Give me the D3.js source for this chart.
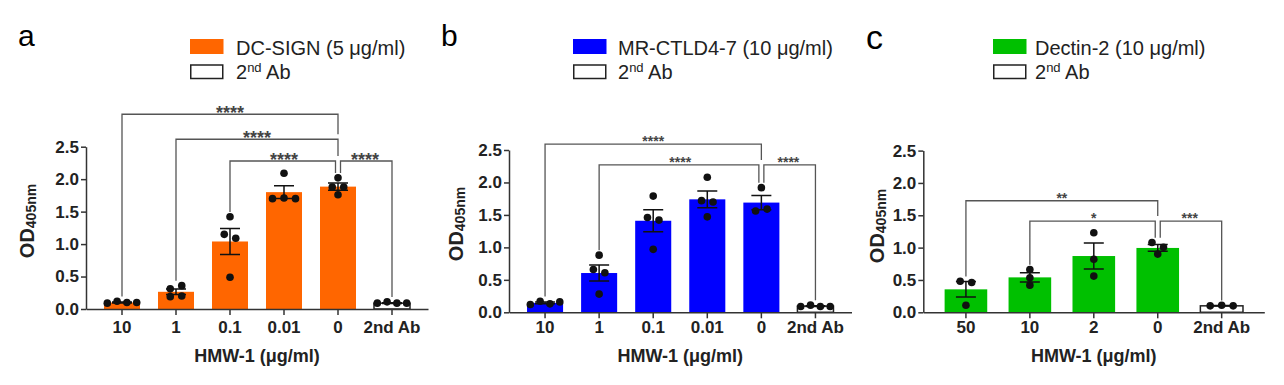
<!DOCTYPE html>
<html>
<head>
<meta charset="utf-8">
<script src="https://cdn.jsdelivr.net/npm/d3@7"></script>
<style>
  body { margin: 0; background: #fff; }
  text { font-family: "Liberation Sans", Arial, sans-serif; }
</style>
</head>
<body>
<div id="chart"></div>
<script>
// values
var panelLetters = ["a", "b", "c"];
var legendLabels = ["DC-SIGN (5 μg/ml)", "MR-CTLD4-7 (10 μg/ml)", "Dectin-2 (10 μg/ml)"];
var xTitle = "HMW-1 (μg/ml)";
var yTicks = [0, 0.5, 1.0, 1.5, 2.0, 2.5];

var categoriesAB = ["10", "1", "0.1", "0.01", "0", "2nd Ab"];
var categoriesC = ["50", "10", "2", "0", "2nd Ab"];

var meansA = [0.10, 0.265, 1.04, 1.80, 1.885, 0.09];
var semA = [0.007, 0.042, 0.20, 0.097, 0.055, 0.005];
var dotsA = [
    [0.09, 0.12, 0.10, 0.10],
    [0.31, 0.36, 0.19, 0.20],
    [1.42, 1.15, 1.09, 0.49],
    [2.09, 1.70, 1.71, 1.70],
    [2.02, 1.88, 1.88, 1.76],
    [0.09, 0.11, 0.09, 0.09]
];
var sigA = [
    {from: 0, to: 4, label: "****", level: 3.0},
    {from: 1, to: 4, label: "****", level: 2.615},
    {from: 2, to: 4, label: "****", level: 2.28},
    {from: 4, to: 5, label: "****", level: 2.28}
];

var meansB = [0.145, 0.605, 1.41, 1.74, 1.69, 0.095];
var semB = [0.012, 0.124, 0.17, 0.13, 0.11, 0.005];
var dotsB = [
    [0.12, 0.17, 0.13, 0.16],
    [0.88, 0.66, 0.61, 0.28],
    [1.79, 1.46, 1.42, 0.97],
    [2.08, 1.72, 1.70, 1.47],
    [1.92, 1.56, 1.59],
    [0.09, 0.11, 0.09, 0.09]
];
var sigB = [
    {from: 0, to: 4, label: "****", level: 2.59},
    {from: 1, to: 4, label: "****", level: 2.27},
    {from: 4, to: 5, label: "****", level: 2.27}
];

var meansC = [0.355, 0.54, 0.87, 0.995, 0.10];
var semC = [0.12, 0.07, 0.20, 0.053, 0.004];
var dotsC = [
    [0.48, 0.46, 0.11],
    [0.66, 0.535, 0.42],
    [1.23, 0.82, 0.56],
    [1.08, 1.005, 0.90],
    [0.10, 0.11, 0.10]
];
var sigC = [
    {from: 0, to: 3, label: "**", level: 1.725},
    {from: 1, to: 3, label: "*", level: 1.41},
    {from: 3, to: 4, label: "***", level: 1.41}
];

var svgWidth = 1284;
var svgHeight = 385;
var dotR = 3.8;

var svg = d3.select("#chart")
    .append("svg")
    .attr("width", svgWidth)
    .attr("height", svgHeight);

// layout per panel
var panels = [
    {letter: panelLetters[0], letterX: 18, letterY: 45.7, letterSize: 30,
     left: 86, top: 146.7, width: 342, height: 162.3, color: "#ff6600",
     cats: categoriesAB, means: meansA, sem: semA, dots: dotsA, sig: sigA,
     legend: legendLabels[0], legendX: 190, legendTextX: 236,
     yTitleX: 33.5, yTitleY: 221, starSize: 18},
    {letter: panelLetters[1], letterX: 441, letterY: 45.7, letterSize: 30,
     left: 509, top: 150, width: 342.5, height: 162.3, color: "#0000ff",
     cats: categoriesAB, means: meansB, sem: semB, dots: dotsB, sig: sigB,
     legend: legendLabels[1], legendX: 573, legendTextX: 618,
     yTitleX: 463.3, yTitleY: 224, starSize: 14},
    {letter: panelLetters[2], letterX: 866, letterY: 49.3, letterSize: 34,
     left: 923.3, top: 150.6, width: 341, height: 161.7, color: "#00c000",
     cats: categoriesC, means: meansC, sem: semC, dots: dotsC, sig: sigC,
     legend: legendLabels[2], legendX: 993, legendTextX: 1035,
     yTitleX: 884, yTitleY: 226, starSize: 14}
];

// spread dots that would overlap into centred rows
function dotOffsets(vals, y, bw) {
    var idx = vals.map((v, i) => i).sort((a, b) => vals[a] - vals[b]);
    var rows = [];
    idx.forEach(function(i) {
        var last = rows[rows.length - 1];
        if (last && Math.abs(y(vals[last[0]]) - y(vals[i])) < 6) last.push(i);
        else rows.push([i]);
    });
    var off = [];
    rows.forEach(function(r) {
        r.sort((a, b) => a - b);
        var step = r.length > 1 ? Math.min(11.5, (bw - 6.6) / (r.length - 1)) : 0;
        r.forEach((i, k) => off[i] = (k - (r.length - 1) / 2) * step);
    });
    return off;
}

function drawPanel(p) {
    // letter + legend
    svg.append("text")
        .attr("x", p.letterX)
        .attr("y", p.letterY)
        .style("font-size", p.letterSize + "px")
        .text(p.letter);

    svg.append("rect")
        .attr("x", p.legendX).attr("y", 39)
        .attr("width", 33.5).attr("height", 15)
        .attr("fill", p.color);
    svg.append("text")
        .attr("x", p.legendTextX).attr("y", 54.5)
        .style("font-size", "20px").attr("fill", "#222")
        .text(p.legend);

    svg.append("rect")
        .attr("x", p.legendX + 0.75).attr("y", 65)
        .attr("width", 32).attr("height", 13.5)
        .attr("fill", "#fff").attr("stroke", "#222").attr("stroke-width", 1.5);
    var t2 = svg.append("text")
        .attr("x", p.legendTextX).attr("y", 78.5)
        .style("font-size", "20px").attr("fill", "#222");
    t2.append("tspan").text("2");
    t2.append("tspan").attr("dy", -7).style("font-size", "13px").text("nd");
    t2.append("tspan").attr("dy", 7).text(" Ab");

    var g = svg.append("g")
        .attr("transform", `translate(${p.left}, ${p.top})`);

    var x = d3.scaleBand()
        .domain(p.cats)
        .range([0, p.width])
        .paddingInner(1 / 3)
        .paddingOuter(1 / 3);
    var y = d3.scaleLinear()
        .domain([0, 2.5])
        .range([p.height, 0]);
    var bw = x.bandwidth();
    var last = p.cats.length - 1;

    // bars
    g.selectAll(".bar")
        .data(p.means)
        .enter()
        .append("rect")
        .attr("x", (d, i) => x(p.cats[i]))
        .attr("y", d => y(d))
        .attr("width", bw)
        .attr("height", d => y(0) - y(d))
        .attr("fill", (d, i) => i === last ? "#fff" : p.color)
        .attr("stroke", (d, i) => i === last ? "#222" : "none")
        .attr("stroke-width", 1.5);

    // error bars (SEM)
    p.means.forEach(function(m, i) {
        var cx = x(p.cats[i]) + bw / 2;
        var hi = y(m + p.sem[i]), lo = y(m - p.sem[i]);
        g.append("path")
            .attr("d", `M${cx},${hi}V${lo}M${cx - 10},${hi}H${cx + 10}M${cx - 10},${lo}H${cx + 10}`)
            .attr("fill", "none")
            .attr("stroke", "#111")
            .attr("stroke-width", 1.5);
    });

    // individual points
    p.dots.forEach(function(vals, i) {
        var cx = x(p.cats[i]) + bw / 2;
        var off = dotOffsets(vals, y, bw);
        g.selectAll(null)
            .data(vals)
            .enter()
            .append("circle")
            .attr("cx", (d, k) => cx + off[k])
            .attr("cy", d => y(d))
            .attr("r", dotR)
            .attr("fill", "#111");
    });

    // axes
    var xAxis = g.append("g")
        .attr("transform", `translate(0, ${p.height})`)
        .call(d3.axisBottom(x).tickSize(6).tickSizeOuter(0));
    xAxis.selectAll("text")
        .attr("y", 333.3 - p.top - p.height)
        .attr("dy", 0)
        .style("font-size", "17px")
        .style("font-weight", "bold")
        .attr("fill", "#222");

    var yAxis = g.append("g")
        .call(d3.axisLeft(y).tickValues(yTicks).tickFormat(d3.format(".1f"))
            .tickSize(5).tickSizeOuter(0).tickPadding(2));
    yAxis.selectAll("text")
        .style("font-size", "17px")
        .style("font-weight", "bold")
        .attr("fill", "#222");

    [xAxis, yAxis].forEach(function(a) {
        a.selectAll("path, line").attr("stroke", "#333").attr("stroke-width", 1.5);
        a.attr("font-family", null);
    });

    svg.append("text")
        .attr("x", p.left + p.width / 2)
        .attr("y", 362)
        .attr("text-anchor", "middle")
        .style("font-size", "18px")
        .style("font-weight", "bold")
        .attr("fill", "#222")
        .text(xTitle);

    var yt = svg.append("text")
        .attr("transform", `translate(${p.yTitleX}, ${p.yTitleY}) rotate(-90)`)
        .attr("text-anchor", "middle")
        .style("font-size", "20px")
        .style("font-weight", "bold")
        .attr("fill", "#222");
    yt.append("tspan").text("OD");
    yt.append("tspan").attr("dy", 2).style("font-size", "14px").text("405nm");

    // significance brackets
    p.sig.forEach(function(s) {
        var by = y(s.level);
        var c1 = x(p.cats[s.from]) + bw / 2;
        var c2 = x(p.cats[s.to]) + bw / 2;
        var shared = k => p.sig.some(o => o !== s && o.level === s.level && (o.from === k || o.to === k));
        var xa = c1 + (shared(s.from) ? 2.5 : 0);
        var xb = c2 - (shared(s.to) ? 2.5 : 0);
        var legEnd = function(k) {
            var ends = [y(d3.max(p.dots[k])) - dotR - 1];
            p.sig.forEach(function(o) {
                if (o.level < s.level && (o.from === k || o.to === k)) ends.push(y(o.level) - 5);
            });
            return d3.min(ends);
        };
        g.append("path")
            .attr("d", `M${xa},${legEnd(s.from)}V${by}H${xb}V${legEnd(s.to)}`)
            .attr("fill", "none")
            .attr("stroke", "#555")
            .attr("stroke-width", 1.3);
        g.append("text")
            .attr("x", (c1 + c2) / 2)
            .attr("y", by - 6 + 0.59 * p.starSize)
            .attr("text-anchor", "middle")
            .style("font-size", p.starSize + "px")
            .style("font-weight", "bold")
            .attr("fill", "#444")
            .text(s.label);
    });
}

panels.forEach(drawPanel);
</script>
</body>
</html>
